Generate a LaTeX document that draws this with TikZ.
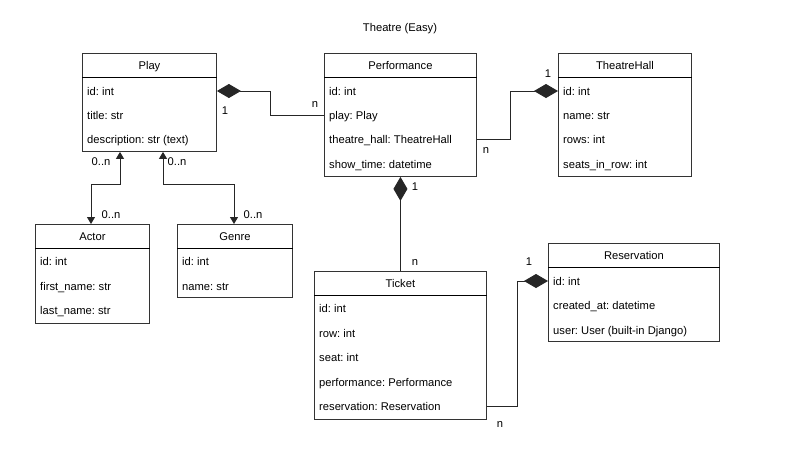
\documentclass[tikz,border=0pt]{standalone}
\usepackage{fontspec}
\setmainfont{Liberation Sans}
\usetikzlibrary{arrows.meta,calc}
\frenchspacing

\tikzset{
  label text/.style={inner sep=0pt, text height=8.6pt, text depth=0.4pt, font=\fontsize{11.2}{13}\selectfont},
  box/.style={draw=black!80, line width=0.9pt, fill=white, anchor=north west, inner sep=0pt},
  attr/.style={label text, anchor=west},
  title/.style={label text},
  mult/.style={label text},
  link/.style={draw=black!85, line width=0.9pt},
  compo/.style={link, {Diamond[length=24pt,width=14pt]}-},
  compoend/.style={link, -{Diamond[length=24pt,width=14pt]}},
  assoc/.style={link, {Triangle[length=7pt,width=8pt]}-{Triangle[length=7pt,width=8pt]}},
}

% class box: name, x, y, width, height, header text
\newcommand{\classbox}[6]{%
  \node[box, minimum width=#4pt, minimum height=#5pt] (#1) at (#2,#3) {};
  \draw[black, line width=0.9pt] ([yshift=-24pt]#1.north west) -- ([yshift=-24pt]#1.north east);
  \node[title] (#1-head) at ([yshift=-12pt]#1.north) {#6};
}

\begin{document}
\begin{tikzpicture}[x=1pt, y=-1pt]
\useasboundingbox (0,0) rectangle (804,448);
\fill[white] (0,0) rectangle (804,448);

\node[title] (heading) at (400,27) {Theatre (Easy)};

% Play
\classbox{play}{82}{53}{134}{98}{Play}
\node[attr] (play-id) at (87,91) {id: int};
\node[attr] (play-title) at (87,115) {title: str};
\node[attr] (play-desc) at (87,139) {description: str (text)};

% Performance
\classbox{perf}{324}{53}{152}{123}{Performance}
\node[attr] (perf-id) at (329,91) {id: int};
\node[attr] (perf-play) at (329,115) {play: Play};
\node[attr] (perf-hall) at (329,139) {theatre\_hall: TheatreHall};
\node[attr] (perf-time) at (329,164) {show\_time: datetime};

% TheatreHall
\classbox{hall}{558}{53}{133}{123}{TheatreHall}
\node[attr] (hall-id) at (563,91) {id: int};
\node[attr] (hall-name) at (563,115) {name: str};
\node[attr] (hall-rows) at (563,139) {rows: int};
\node[attr] (hall-seats) at (563,164) {seats\_in\_row: int};

% Actor
\classbox{actor}{35}{224}{114}{99}{Actor}
\node[attr] (actor-id) at (40,261) {id: int};
\node[attr] (actor-first) at (40,286) {first\_name: str};
\node[attr] (actor-last) at (40,310) {last\_name: str};

% Genre
\classbox{genre}{177}{224}{115}{73}{Genre}
\node[attr] (genre-id) at (182,261) {id: int};
\node[attr] (genre-name) at (182,286) {name: str};

% Ticket
\classbox{ticket}{314}{271}{172}{148}{Ticket}
\node[attr] (ticket-id) at (319,308) {id: int};
\node[attr] (ticket-row) at (319,333) {row: int};
\node[attr] (ticket-seat) at (319,357) {seat: int};
\node[attr] (ticket-perf) at (319,382) {performance: Performance};
\node[attr] (ticket-res) at (319,406) {reservation: Reservation};

% Reservation
\classbox{resv}{548}{243}{171}{98}{Reservation}
\node[attr] (resv-id) at (553,281) {id: int};
\node[attr] (resv-created) at (553,305) {created\_at: datetime};
\node[attr] (resv-user) at (553,330) {user: User (built-in Django)};

% Play 1 -- n Performance
\draw[compo] (play.east |- play-id) -- ++(54,0) |- (perf.west |- perf-play);
\node[mult] (m1a) at (225,110) {1};
\node[mult] (m1b) at (315,103) {n};

% Performance n -- 1 TheatreHall
\draw[compoend] (perf.east |- perf-hall) -- ++(34,0) |- (hall.west |- hall-id);
\node[mult] (m2a) at (548,73) {1};
\node[mult] (m2b) at (486,149) {n};

% Performance 1 -- n Ticket
\draw[compo] (perf.south) -- (perf.south |- ticket.north);
\node[mult] (m3a) at (415,186) {1};
\node[mult] (m3b) at (415,261) {n};

% Ticket n -- 1 Reservation
\draw[compoend] (ticket.east |- ticket-res) -- ++(31,0) |- (resv.west |- resv-id);
\node[mult] (m4a) at (529,261) {1};
\node[mult] (m4b) at (500,423) {n};

% Play -- Actor
\draw[assoc] ([xshift=38pt]play.south west) -- ++(0,33) -| ([xshift=56pt]actor.north west);
\node[mult] (m5a) at (101,161) {0..n};
\node[mult] (m5b) at (111,214) {0..n};

% Play -- Genre
\draw[assoc] ([xshift=81pt]play.south west) -- ++(0,33) -| ([xshift=57pt]genre.north west);
\node[mult] (m6a) at (177,161) {0..n};
\node[mult] (m6b) at (253,214) {0..n};
\end{tikzpicture}
\end{document}
